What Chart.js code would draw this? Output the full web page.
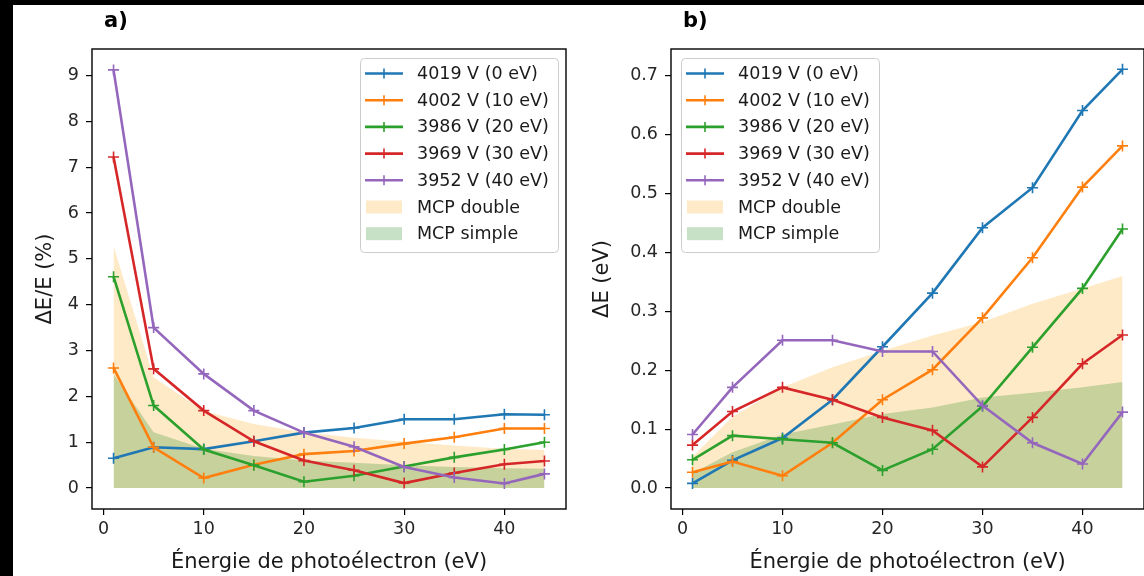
<!DOCTYPE html>
<html lang="fr">
<head>
<meta charset="UTF-8">
<title>Résolution en énergie</title>
<script src="https://cdn.jsdelivr.net/npm/chart.js@4.4.0/dist/chart.umd.min.js"></script>
<style>
    html, body { margin: 0; padding: 0; background: #fff; overflow: hidden; }
    body { width: 1144px; height: 576px; position: relative; font-family: "DejaVu Sans", sans-serif; }
    canvas { position: absolute; top: 0; }
    #chartA { left: 0; }
    #chartB { left: 572px; }
    .edge { position: absolute; background: #000; z-index: 5; }
    #edgeTop { left: 0; top: 0; width: 1144px; height: 5px; }
    #edgeLeft { left: 0; top: 0; width: 13px; height: 576px; }
</style>
</head>
<body>
<canvas id="chartA" width="572" height="576"></canvas>
<canvas id="chartB" width="572" height="576"></canvas>
<div class="edge" id="edgeTop"></div>
<div class="edge" id="edgeLeft"></div>

<script>
'use strict';

// photoelectron energies (eV)
const energies = [1, 5, 10, 15, 20, 25, 30, 35, 40, 44];

const seriesLabels = ['4019 V (0 eV)', '4002 V (10 eV)', '3986 V (20 eV)', '3969 V (30 eV)', '3952 V (40 eV)'];
const seriesColors = ['#1f77b4', '#ff7f0e', '#2ca02c', '#d62728', '#9467bd'];
const fillLabels = ['MCP double', 'MCP simple'];
const fillColors = ['rgba(252, 160, 0, 0.22)', 'rgba(0, 120, 0, 0.22)'];

// a) relative resolution dE/E (%)
const relE_4019 = [0.65, 0.89, 0.85, 1.02, 1.21, 1.31, 1.5, 1.5, 1.61, 1.6];
const relE_4002 = [2.62, 0.89, 0.22, 0.51, 0.74, 0.81, 0.97, 1.11, 1.3, 1.3];
const relE_3986 = [4.61, 1.8, 0.84, 0.5, 0.14, 0.27, 0.47, 0.67, 0.84, 1.0];
const relE_3969 = [7.22, 2.6, 1.69, 1.02, 0.6, 0.39, 0.11, 0.33, 0.52, 0.59];
const relE_3952 = [9.12, 3.5, 2.49, 1.69, 1.21, 0.9, 0.46, 0.23, 0.1, 0.31];
const relE_double = [5.28, 2.42, 1.68, 1.4, 1.22, 1.1, 1.01, 0.93, 0.86, 0.83];
const relE_simple = [2.49, 1.22, 0.86, 0.7, 0.6, 0.55, 0.5, 0.46, 0.43, 0.42];

// b) absolute resolution dE (eV)
const absE_4019 = [0.008, 0.047, 0.085, 0.15, 0.24, 0.331, 0.442, 0.51, 0.641, 0.711];
const absE_4002 = [0.027, 0.045, 0.021, 0.077, 0.15, 0.201, 0.289, 0.391, 0.511, 0.581];
const absE_3986 = [0.048, 0.089, 0.083, 0.077, 0.03, 0.066, 0.139, 0.239, 0.339, 0.44];
const absE_3969 = [0.073, 0.13, 0.171, 0.15, 0.12, 0.098, 0.036, 0.12, 0.211, 0.26];
const absE_3952 = [0.091, 0.171, 0.251, 0.251, 0.232, 0.232, 0.14, 0.077, 0.041, 0.129];
const absE_double = [0.053, 0.121, 0.171, 0.205, 0.233, 0.259, 0.282, 0.313, 0.339, 0.36];
const absE_simple = [0.025, 0.061, 0.091, 0.108, 0.126, 0.137, 0.154, 0.162, 0.171, 0.18];

const xTicks = [0, 10, 20, 30, 40];
const yTicksA = [0, 1, 2, 3, 4, 5, 6, 7, 8, 9];
const yTicksB = [0, 0.1, 0.2, 0.3, 0.4, 0.5, 0.6, 0.7];

Chart.defaults.font.family = '"DejaVu Sans", sans-serif';
Chart.defaults.color = '#262626';

const pts = vals => vals.map((v, i) => ({ x: energies[i], y: v }));

// frame on four sides, panel tag and a matplotlib-like legend box
const framePlugin = {
    id: 'frameLegend',
    afterDraw(chart, args, o) {
        const { ctx, chartArea: a } = chart;
        ctx.save();
        ctx.strokeStyle = '#000';
        ctx.lineWidth = 1.4;
        ctx.strokeRect(a.left, a.top, a.right - a.left, a.bottom - a.top);

        ctx.fillStyle = '#000';
        ctx.font = 'bold 21px "DejaVu Sans"';
        ctx.textBaseline = 'middle';
        ctx.textAlign = 'left';
        ctx.fillText(o.tag, o.tagX, 22);

        const bx = o.boxX, by = 58, bw = 198, bh = 194;
        ctx.beginPath();
        if (ctx.roundRect) ctx.roundRect(bx + 0.5, by + 0.5, bw, bh, 4);
        else ctx.rect(bx + 0.5, by + 0.5, bw, bh);
        ctx.fillStyle = 'rgba(255,255,255,0.8)';
        ctx.fill();
        ctx.strokeStyle = '#cccccc';
        ctx.lineWidth = 1;
        ctx.stroke();

        ctx.font = '17.5px "DejaVu Sans"';
        chart.data.datasets.forEach((ds, i) => {
            const cy = by + 15.5 + i * 26.7;
            if (ds.fill) {
                ctx.fillStyle = ds.backgroundColor;
                ctx.fillRect(bx + 6, cy - 6.5, 36, 13);
            } else {
                ctx.strokeStyle = ds.borderColor;
                ctx.lineWidth = 2.6;
                ctx.beginPath();
                ctx.moveTo(bx + 5, cy);
                ctx.lineTo(bx + 43, cy);
                ctx.stroke();
                ctx.lineWidth = 1.6;
                ctx.beginPath();
                ctx.moveTo(bx + 24, cy - 5);
                ctx.lineTo(bx + 24, cy + 5);
                ctx.stroke();
            }
            ctx.fillStyle = '#1a1a1a';
            ctx.fillText(ds.label, bx + 57, cy + 1);
        });
        ctx.restore();
    }
};

function makePanel(id, lineData, fillData, yMin, yMax, yTicks, yTitle, panel) {
    const datasets = lineData.map((vals, i) => ({
        label: seriesLabels[i],
        data: pts(vals),
        borderColor: seriesColors[i],
        backgroundColor: seriesColors[i],
        borderWidth: 2.6,
        pointStyle: 'cross',
        pointRadius: 5.5,
        pointBorderWidth: 1.6,
        showLine: true,
        fill: false,
        tension: 0,
        order: 5 - i
    }));
    fillData.forEach((vals, i) => {
        datasets.push({
            label: fillLabels[i],
            data: pts(vals),
            borderWidth: 0,
            borderColor: 'rgba(0,0,0,0)',
            backgroundColor: fillColors[i],
            pointRadius: 0,
            showLine: true,
            fill: 'origin',
            tension: 0,
            order: 8 - i
        });
    });

    return new Chart(document.getElementById(id), {
        type: 'scatter',
        data: { datasets },
        options: {
            responsive: false,
            animation: false,
            layout: { padding: panel.padding, autoPadding: false },
            plugins: {
                legend: { display: false },
                tooltip: { enabled: false },
                frameLegend: panel.legend
            },
            scales: {
                x: {
                    type: 'linear',
                    min: -1.15,
                    max: 46.15,
                    afterBuildTicks: s => { s.ticks = xTicks.map(v => ({ value: v })); },
                    afterFit: s => { s.height = 67; s.paddingLeft = 0; s.paddingRight = 0; },
                    grid: { drawOnChartArea: false, color: '#000', lineWidth: 1.2, tickLength: 6 },
                    border: { display: false },
                    ticks: { font: { size: 17.5 }, padding: 4, maxRotation: 0 },
                    title: {
                        display: true,
                        text: 'Énergie de photoélectron (eV)',
                        font: { size: 21, lineHeight: 1.2 },
                        color: '#1a1a1a',
                        padding: { top: 0, bottom: 1 }
                    }
                },
                y: {
                    type: 'linear',
                    min: yMin,
                    max: yMax,
                    afterBuildTicks: s => { s.ticks = yTicks.map(v => ({ value: v })); },
                    afterFit: s => { s.width = panel.yWidth; s.paddingTop = 0; s.paddingBottom = 0; },
                    grid: { drawOnChartArea: false, color: '#000', lineWidth: 1.2, tickLength: 6 },
                    border: { display: false },
                    ticks: {
                        font: { size: 17.5 },
                        padding: 7,
                        callback: v => panel.fmt(v)
                    },
                    title: {
                        display: true,
                        text: yTitle,
                        font: { size: 21, lineHeight: 1.2 },
                        color: '#1a1a1a',
                        padding: { top: panel.yTitlePad, bottom: 0 }
                    }
                }
            }
        },
        plugins: [framePlugin]
    });
}

makePanel('chartA',
    [relE_4019, relE_4002, relE_3986, relE_3969, relE_3952],
    [relE_double, relE_simple],
    -0.456, 9.576, yTicksA, 'ΔE/E (%)',
    {
        padding: { left: 0, right: 6, top: 49, bottom: 0 },
        yWidth: 92,
        yTitlePad: 33,
        fmt: v => String(v),
        legend: { tag: 'a)', tagX: 104, boxX: 360 }
    });

makePanel('chartB',
    [absE_4019, absE_4002, absE_3986, absE_3969, absE_3952],
    [absE_double, absE_simple],
    -0.0355, 0.7455, yTicksB, 'ΔE (eV)',
    {
        padding: { left: 0, right: 0, top: 49, bottom: 0 },
        yWidth: 99,
        yTitlePad: 18,
        fmt: v => v.toFixed(1),
        legend: { tag: 'b)', tagX: 111, boxX: 109 }
    });
</script>
</body>
</html>
